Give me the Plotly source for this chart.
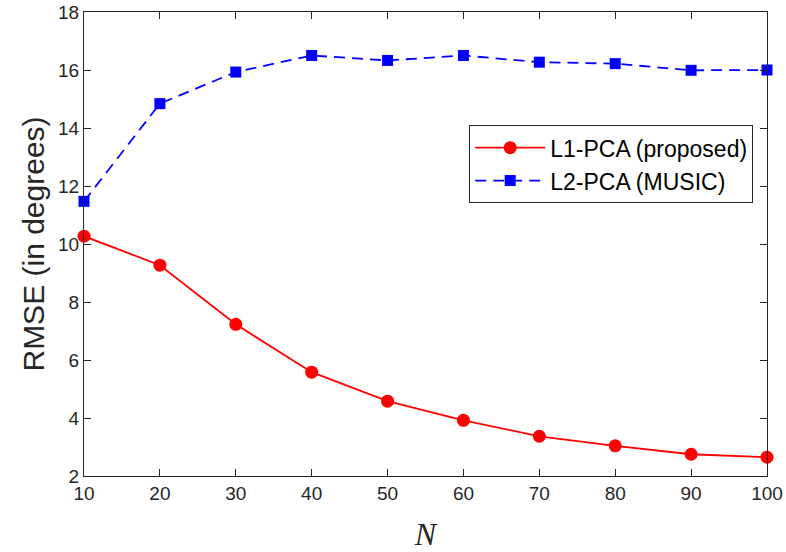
import plotly.graph_objects as go

N = [10, 20, 30, 40, 50, 60, 70, 80, 90, 100]
l1_pca = [10.27, 9.27, 7.23, 5.58, 4.58, 3.92, 3.37, 3.04, 2.75, 2.65]
l2_pca = [11.47, 14.84, 15.93, 16.50, 16.33, 16.50, 16.27, 16.22, 15.99, 16.00]
y_ticks = [2, 4, 6, 8, 10, 12, 14, 16, 18]
x_ticks = N

fig = go.Figure()
fig.add_trace(go.Scatter(x=N, y=l1_pca, mode="lines+markers", name="L1-PCA (proposed)",
                         line=dict(color="#ff0000", width=1.8),
                         marker=dict(symbol="circle", size=13, color="#ff0000"),
                         cliponaxis=False))
fig.add_trace(go.Scatter(x=N, y=l2_pca, mode="lines+markers", name="L2-PCA (MUSIC)",
                         line=dict(color="#0000ff", width=1.8, dash="11px,7px"),
                         marker=dict(symbol="square", size=11, color="#0000ff"),
                         cliponaxis=False))

axis_common = dict(showline=True, linecolor="#262626", linewidth=1.2, mirror="ticks",
                   ticks="inside", ticklen=7, tickcolor="#262626", showgrid=False,
                   zeroline=False, automargin=False,
                   tickfont=dict(family="Liberation Sans", size=19, color="#262626"))
fig.update_xaxes(range=[10, 100], tickvals=x_ticks,
                 title=dict(text="<i>N</i>", font=dict(family="Liberation Serif", size=32, color="#262626"), standoff=28),
                 **axis_common)
fig.update_yaxes(range=[2, 18], tickvals=y_ticks,
                 title=dict(text="RMSE (in degrees)", font=dict(family="Liberation Sans", size=30, color="#262626"), standoff=4),
                 **axis_common)
fig.update_layout(
    width=786, height=552,
    margin=dict(l=84, r=19, t=12, b=76),
    plot_bgcolor="white", paper_bgcolor="white",
    legend=dict(x=0.564, y=0.756, xanchor="left", yanchor="top",
                bgcolor="white", bordercolor="#262626", borderwidth=1,
                font=dict(family="Liberation Sans", size=23, color="#000000"),
                itemwidth=70, tracegroupgap=0),
    showlegend=True,
)
fig.write_html("out.html", config={"displayModeBar": False},
               post_script="document.body.style.margin='0';document.body.style.overflow='hidden';")
